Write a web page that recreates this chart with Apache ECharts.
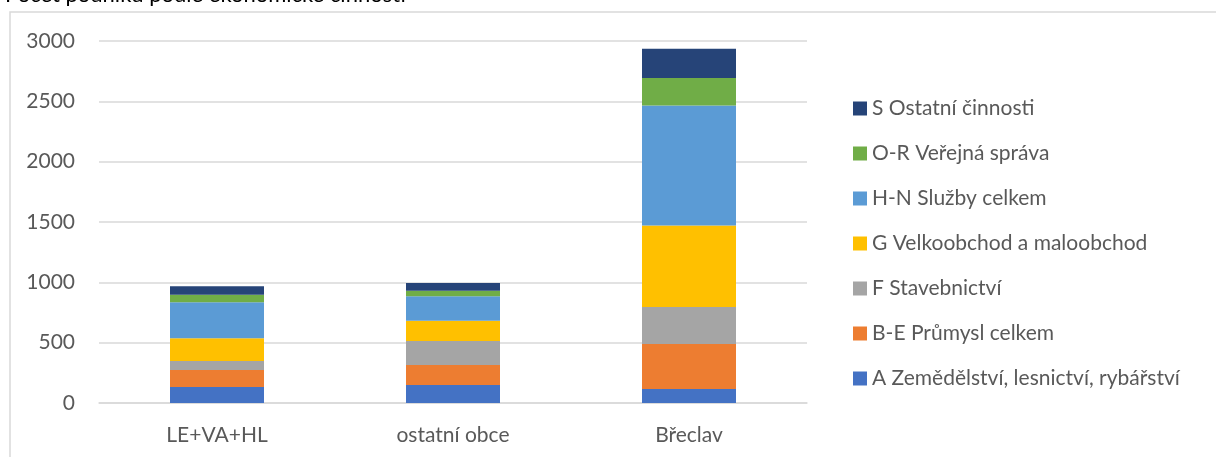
<!DOCTYPE html>
<html>
<head>
<meta charset="utf-8">
<script src="https://cdn.jsdelivr.net/npm/echarts@6/dist/echarts.min.js"></script>
<style>
  html, body { margin: 0; padding: 0; background: #fff; }
  #chart { width: 1216px; height: 457px; }
</style>
</head>
<body>
<div id="chart"></div>
<script>
// kategorie (obce)
var categories = ['LE+VA+HL', 'ostatní obce', 'Břeclav'];

// počty podniků podle činnosti
var zemedelstvi = [133, 149, 116];
var prumysl = [141, 166, 373];
var stavebnictvi = [74, 199, 307];
var obchod = [188, 168, 676];
var sluzby = [298, 202, 993];
var verejnaSprava = [64, 47, 229];
var ostatni = [69, 64, 241];

var seriesNames = [
    'A Zemědělství, lesnictví, rybářství',
    'B-E Průmysl celkem',
    'F Stavebnictví',
    'G Velkoobchod a maloobchod',
    'H-N Služby celkem',
    'O-R Veřejná správa',
    'S Ostatní činnosti'
];
var seriesData = [zemedelstvi, prumysl, stavebnictvi, obchod, sluzby, verejnaSprava, ostatni];
var colors = ['#4472C4', '#ED7D31', '#A5A5A5', '#FFC000', '#5B9BD5', '#70AD47', '#264478'];

var chart = echarts.init(document.getElementById('chart'));
var font = 'Lato, "Noto Sans", sans-serif';

var series = seriesNames.map(function (name, i) {
    return {
        name: name,
        type: 'bar',
        stack: 'total',
        barWidth: 94,
        itemStyle: { color: colors[i] },
        data: seriesData[i]
    };
});

var option = {
    animation: false,
    title: {
        text: 'Počet podniků podle ekonomické činnosti',
        left: 0,
        top: -21,
        textStyle: { fontFamily: font, fontSize: 22, fontWeight: 'normal', color: '#000' }
    },
    graphic: [{
        type: 'rect',
        shape: { x: 10, y: 12, width: 1300, height: 600 },
        style: { fill: 'none', stroke: '#D9D9D9', lineWidth: 1.5 },
        silent: true,
        z: -1
    }],
    legend: {
        orient: 'vertical',
        left: 848,
        top: 93,
        itemWidth: 14,
        itemHeight: 14,
        itemGap: 24,
        icon: 'rect',
        data: seriesNames.slice().reverse(),
        textStyle: { fontFamily: font, fontSize: 21, lineHeight: 21, color: '#595959' }
    },
    grid: {
        left: 99,
        right: 409,
        top: 41,
        bottom: 54
    },
    xAxis: {
        type: 'category',
        data: categories,
        axisLine: { lineStyle: { color: '#D9D9D9', width: 1.5 } },
        axisTick: { show: false },
        axisLabel: { fontFamily: font, fontSize: 21, color: '#595959', margin: 22 }
    },
    yAxis: {
        type: 'value',
        min: 0,
        max: 3000,
        interval: 500,
        axisLine: { show: false },
        axisTick: { show: false },
        splitLine: { lineStyle: { color: '#D9D9D9', width: 1.5 } },
        axisLabel: {
            fontFamily: font, fontSize: 21, color: '#595959', margin: 24,
            formatter: function (v) { return String(v); }
        }
    },
    series: series
};

chart.setOption(option);
</script>
</body>
</html>
